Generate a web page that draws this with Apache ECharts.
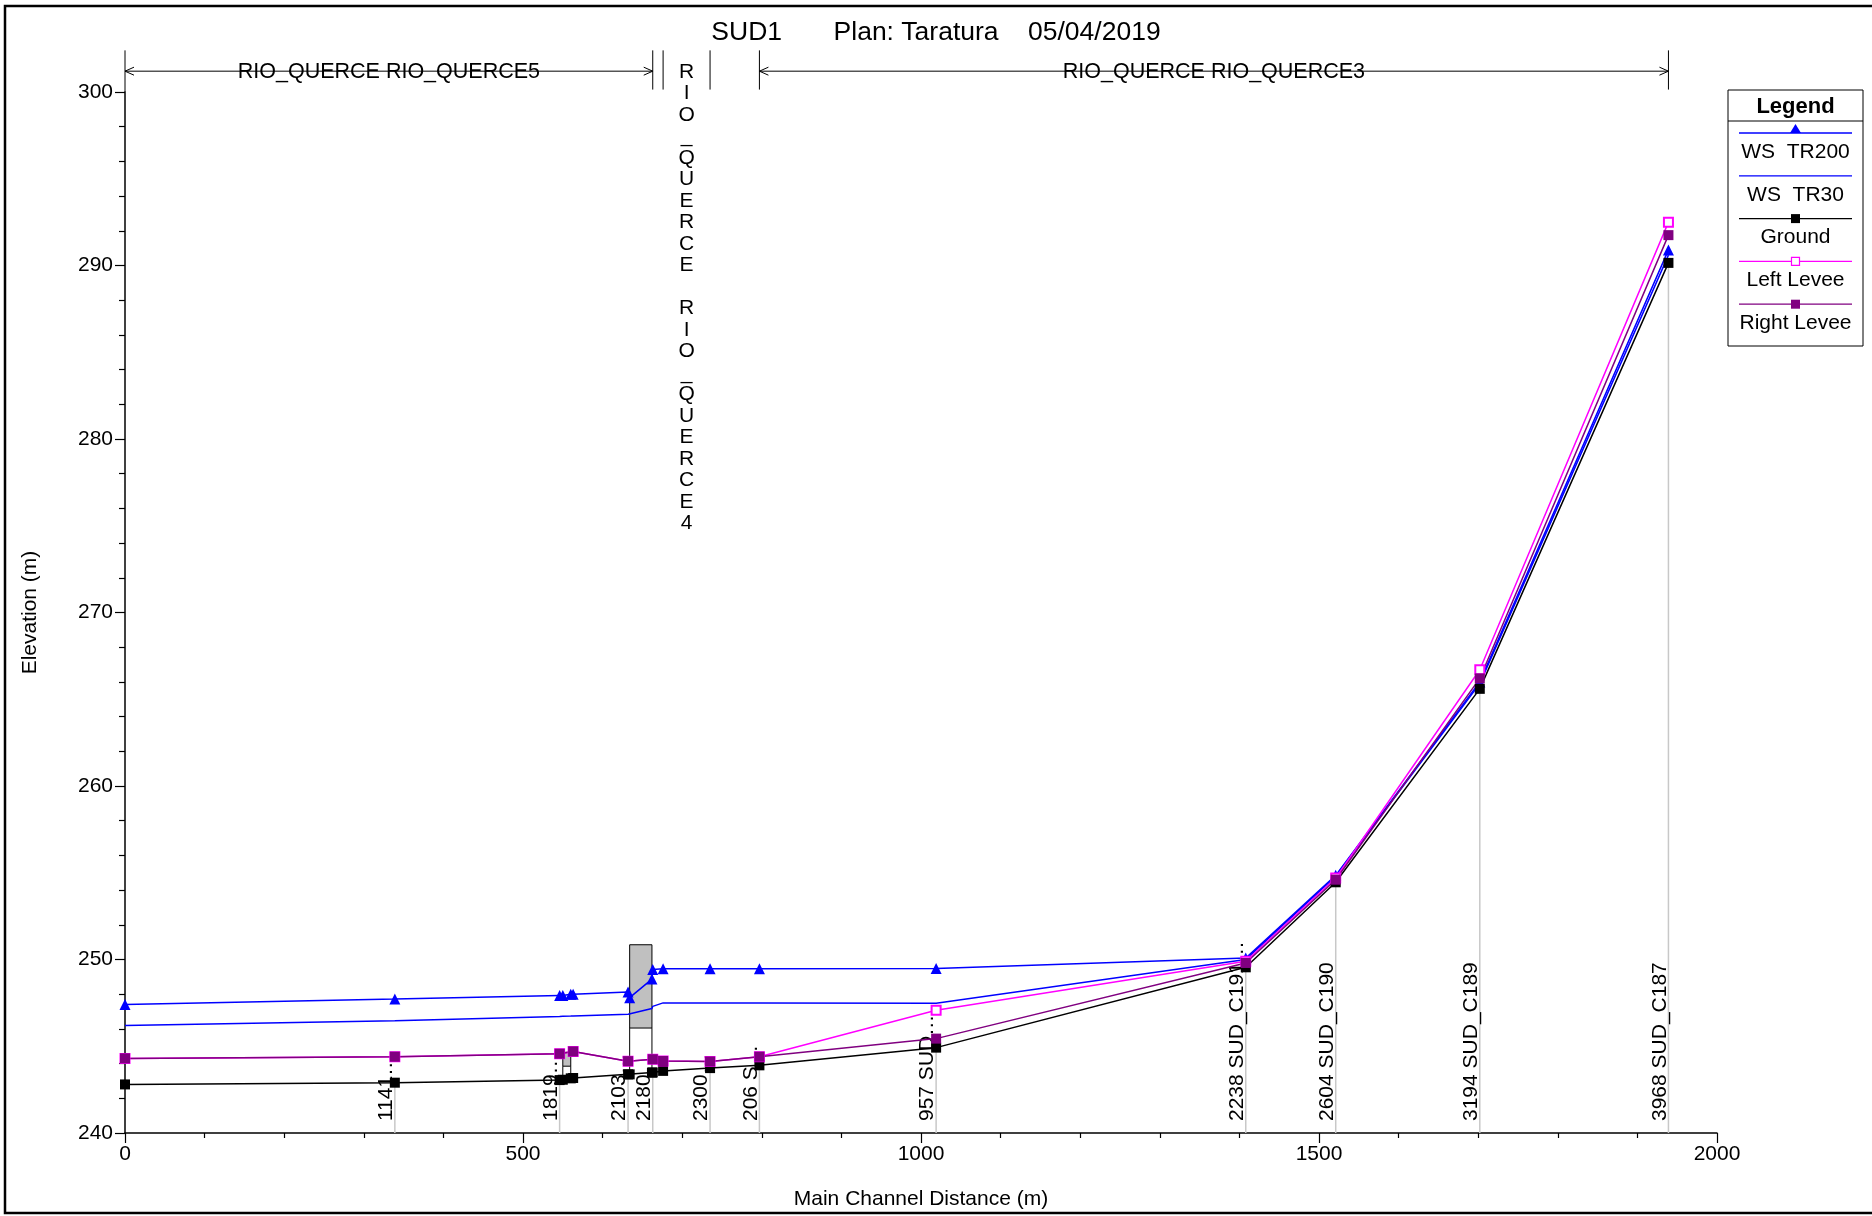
<!DOCTYPE html>
<html><head><meta charset="utf-8">
<script src="https://cdn.jsdelivr.net/npm/echarts@6/dist/echarts.min.js"></script>
<style>html,body{margin:0;padding:0;background:#fff}#chart{width:1872px;height:1216px}</style>
</head><body><div id="chart"></div>
<script>
// ---------- data ----------
const stations   = [0, 339, 546, 550, 560, 563, 632, 634, 662, 663, 676, 735, 797, 1019, 1408, 1521, 1702, 1939];
const wsTR200    = [247.4, 247.72, 247.93, 247.93, 248.0, 248.0, 248.12, 247.8, 248.87, 249.42, 249.46, 249.46, 249.46, 249.48, 250.08, 254.85, 266.0, 290.9];
const wsTR30     = [246.2, 246.47, 246.72, 246.73, 246.74, 246.75, 246.85, 246.77, 247.18, 247.3, 247.5, 247.5, 247.5, 247.48, 250.0, 254.8, 265.9, 290.6];
const ground     = [242.8, 242.9, 243.05, 243.07, 243.15, 243.17, 243.38, 243.38, 243.48, 243.49, 243.58, 243.74, 243.9, 244.92, 249.55, 254.45, 265.6, 290.15];
const leftLevee  = [244.3, 244.4, 244.57, null, null, 244.7, 244.14, null, null, 244.25, 244.15, 244.12, 244.4, 247.08, 249.9, 254.7, 266.7, 292.5];
const rightLevee = [244.3, 244.4, 244.57, null, null, 244.7, 244.14, null, null, 244.25, 244.15, 244.12, 244.4, 245.44, 249.8, 254.6, 266.2, 291.75];
const stationLabels = ['', '1141\u2026', '1819\u2026', '', '', '', '2103\u2026', '', '', '2180', '', '2300\u2026', '206 S\u2026', '957 SUD\u2026', '2238 SUD_C191\u2026', '2604 SUD_C190', '3194 SUD_C189', '3968 SUD_C187'];

const reachNames = ['RIO_QUERCE RIO_QUERCE5', 'RIO_QUERCE RIO_QUERCE4', 'RIO_QUERCE RIO_QUERCE3'];
const reachStart = [0, 676, 797];
const reachEnd   = [663, 735, 1939];

const bridgeStart     = [550, 634];
const bridgeEnd       = [560, 662];
const bridgeLowChord  = [243.85, 246.05];
const bridgeHighChord = [244.65, 250.85];

const xTicks = [0, 500, 1000, 1500, 2000];
const yTicks = [240, 250, 260, 270, 280, 290, 300];

const titleText = 'SUD1       Plan: Taratura    05/04/2019';
const seriesNames = ['WS  TR200', 'WS  TR30', 'Ground', 'Left Levee', 'Right Levee'];

// ---------- styling ----------
const FONT = '"Liberation Sans", Arial, Helvetica, sans-serif';
const Y_MIN = yTicks[0], Y_MAX = yTicks[yTicks.length - 1];
const X_MIN = xTicks[0], X_MAX = xTicks[xTicks.length - 1];
const BR_TOP = 302.4, BR_BOTTOM = 300.14, BR_ARROW = 301.2;

const seriesDefs = [
  { name: seriesNames[0], values: wsTR200,    color: '#0000ff', symbol: 'triangle',  size: 11 },
  { name: seriesNames[1], values: wsTR30,     color: '#0000ff', symbol: 'none',      size: 0 },
  { name: seriesNames[2], values: ground,     color: '#000000', symbol: 'rect',      size: 10 },
  { name: seriesNames[3], values: leftLevee,  color: '#ff00ff', symbol: 'emptyRect', size: 9 },
  { name: seriesNames[4], values: rightLevee, color: '#800080', symbol: 'rect',      size: 10 }
];

const chart = echarts.init(document.getElementById('chart'), null, { renderer: 'canvas' });

function groundAt(x) {
  const i = stations.indexOf(x);
  return i >= 0 ? ground[i] : Y_MIN;
}

const lineSeries = seriesDefs.map(d => ({
  type: 'line',
  name: d.name,
  z: 3,
  data: stations.map((x, i) => [x, d.values[i] == null ? '-' : d.values[i]]),
  connectNulls: true,
  symbol: d.symbol,
  symbolSize: d.size,
  showSymbol: d.symbol !== 'none',
  lineStyle: { color: d.color, width: 1.5 },
  itemStyle: { color: d.color, borderColor: d.color, borderWidth: d.symbol === 'emptyRect' ? 1.3 : 0 },
  emphasis: { disabled: true },
  animation: false
}));

const stationSeries = {
  type: 'custom',
  name: 'stations',
  z: 1,
  silent: true,
  animation: false,
  data: stations.map((x, i) => [x, ground[i]]),
  renderItem: function (params, api) {
    const label = stationLabels[params.dataIndex];
    if (!label) return null;
    const x = api.value(0), g = api.value(1);
    const base = api.coord([x, Y_MIN]);
    const top = api.coord([x, g]);
    return {
      type: 'group',
      children: [
        { type: 'line', shape: { x1: base[0], y1: base[1], x2: top[0], y2: top[1] },
          style: { stroke: '#c8c8c8', lineWidth: 1.5 } },
        { type: 'text', x: base[0] + 2, y: base[1] - 12, rotation: Math.PI / 2,
          style: { text: label, fontSize: 21, fontFamily: FONT, fill: '#000', align: 'left', verticalAlign: 'bottom' } }
      ]
    };
  }
};

const bridgeSeries = {
  type: 'custom',
  name: 'bridges',
  z: 1,
  silent: true,
  animation: false,
  encode: { x: [0, 1], y: [2, 3] },
  data: bridgeStart.map((s, i) => [s, bridgeEnd[i], bridgeLowChord[i], bridgeHighChord[i]]),
  renderItem: function (params, api) {
    const s = api.value(0), e = api.value(1), lo = api.value(2), hi = api.value(3);
    const pTL = api.coord([s, hi]), pBR = api.coord([e, lo]);
    const gL = api.coord([s, groundAt(s)]), gR = api.coord([e, groundAt(e)]);
    return {
      type: 'group',
      children: [
        { type: 'rect', shape: { x: pTL[0], y: pTL[1], width: pBR[0] - pTL[0], height: pBR[1] - pTL[1] },
          style: { fill: '#c0c0c0', stroke: '#000', lineWidth: 1 } },
        { type: 'line', shape: { x1: pTL[0], y1: pBR[1], x2: gL[0], y2: gL[1] }, style: { stroke: '#000', lineWidth: 1 } },
        { type: 'line', shape: { x1: pBR[0], y1: pBR[1], x2: gR[0], y2: gR[1] }, style: { stroke: '#000', lineWidth: 1 } }
      ]
    };
  }
};

const reachSeries = {
  type: 'custom',
  name: 'reaches',
  z: 4,
  silent: true,
  animation: false,
  clip: false,
  encode: { x: [0, 1], y: 2 },
  data: reachStart.map((s, i) => [s, reachEnd[i], BR_ARROW]),
  renderItem: function (params, api) {
    const i = params.dataIndex;
    const s = api.value(0), e = api.value(1);
    const pS = api.coord([s, BR_ARROW]), pE = api.coord([e, BR_ARROW]);
    const yTop = api.coord([s, BR_TOP])[1];
    const yBot = api.coord([s, BR_BOTTOM])[1];
    const yAxisTop = api.coord([s, Y_MAX])[1];
    const ay = pS[1];
    const stroke = { stroke: '#000', lineWidth: 1 };
    const ch = [
      { type: 'line', shape: { x1: pS[0], y1: yTop, x2: pS[0], y2: s === X_MIN ? yAxisTop : yBot }, style: stroke },
      { type: 'line', shape: { x1: pE[0], y1: yTop, x2: pE[0], y2: yBot }, style: stroke }
    ];
    const name = reachNames[i];
    if (pE[0] - pS[0] > 200) {
      ch.push({ type: 'line', shape: { x1: pS[0], y1: ay, x2: pE[0], y2: ay }, style: stroke });
      ch.push({ type: 'polyline', shape: { points: [[pS[0] + 9, ay - 4], [pS[0], ay], [pS[0] + 9, ay + 4]] }, style: Object.assign({ fill: null }, stroke) });
      ch.push({ type: 'polyline', shape: { points: [[pE[0] - 9, ay - 4], [pE[0], ay], [pE[0] - 9, ay + 4]] }, style: Object.assign({ fill: null }, stroke) });
      ch.push({ type: 'text', x: (pS[0] + pE[0]) / 2, y: ay + 1,
        style: { text: name, fontSize: 21.5, fontFamily: FONT, fill: '#000', align: 'center', verticalAlign: 'middle' } });
    } else {
      const lh = 21.5;
      ch.push({ type: 'text', x: (pS[0] + pE[0]) / 2, y: ay - lh / 2 + 1,
        style: { text: name.split('').join('\n'), fontSize: 21, lineHeight: lh, fontFamily: FONT, fill: '#000', align: 'center', verticalAlign: 'top' } });
    }
    return { type: 'group', children: ch };
  }
};

// ---------- legend (drawn as graphics) ----------
const LG = { left: 1728, top: 90, width: 135, height: 256, sep: 121, first: 133, step: 42.8, x1: 1739, x2: 1852 };
const legendEls = [
  { type: 'rect', shape: { x: LG.left, y: LG.top, width: LG.width, height: LG.height }, style: { fill: '#fff', stroke: '#000', lineWidth: 1 } },
  { type: 'text', x: LG.left + LG.width / 2, y: (LG.top + LG.sep) / 2 + 1,
    style: { text: 'Legend', fontSize: 22, fontWeight: 'bold', fontFamily: FONT, fill: '#000', align: 'center', verticalAlign: 'middle' } },
  { type: 'line', shape: { x1: LG.left, y1: LG.sep, x2: LG.left + LG.width, y2: LG.sep }, style: { stroke: '#000', lineWidth: 1 } }
];
seriesDefs.forEach((d, i) => {
  const y = LG.first + i * LG.step;
  const cx = (LG.x1 + LG.x2) / 2;
  legendEls.push({ type: 'line', shape: { x1: LG.x1, y1: y, x2: LG.x2, y2: y }, style: { stroke: d.color, lineWidth: 1.3 } });
  if (d.symbol === 'triangle') {
    legendEls.push({ type: 'polygon', shape: { points: [[cx, y - 9], [cx + 5.5, y], [cx - 5.5, y]] }, style: { fill: d.color } });
  } else if (d.symbol === 'rect') {
    legendEls.push({ type: 'rect', shape: { x: cx - 4.5, y: y - 4.5, width: 9, height: 9 }, style: { fill: d.color } });
  } else if (d.symbol === 'emptyRect') {
    legendEls.push({ type: 'rect', shape: { x: cx - 4, y: y - 4, width: 8, height: 8 }, style: { fill: '#fff', stroke: d.color, lineWidth: 1.2 } });
  }
  legendEls.push({ type: 'text', x: cx, y: y + 19,
    style: { text: d.name, fontSize: 21, fontFamily: FONT, fill: '#000', align: 'center', verticalAlign: 'middle' } });
});

const option = {
  backgroundColor: '#fff',
  animation: false,
  title: {
    text: titleText, left: 'center', top: 14,
    textStyle: { fontSize: 26.5, fontWeight: 'normal', fontFamily: FONT, color: '#000' }
  },
  grid: { left: 125, right: 155, top: 92, bottom: 83, containLabel: false },
  xAxis: {
    type: 'value', min: X_MIN, max: X_MAX, interval: xTicks[1] - xTicks[0],
    name: 'Main Channel Distance (m)', nameLocation: 'middle', nameGap: 56,
    nameTextStyle: { fontSize: 21, fontFamily: FONT, color: '#000' },
    axisLine: { show: true, lineStyle: { color: '#000', width: 1.5 } },
    axisTick: { show: true, length: 10, lineStyle: { color: '#000', width: 1.2 } },
    minorTick: { show: true, splitNumber: 5, length: 5, lineStyle: { color: '#000', width: 1.2 } },
    axisLabel: { fontSize: 21, fontFamily: FONT, color: '#000', margin: 11, formatter: v => String(v) },
    splitLine: { show: false }
  },
  yAxis: {
    type: 'value', min: Y_MIN, max: Y_MAX, interval: yTicks[1] - yTicks[0],
    name: 'Elevation (m)', nameLocation: 'middle', nameGap: 84,
    nameTextStyle: { fontSize: 21, fontFamily: FONT, color: '#000' },
    axisLine: { show: true, lineStyle: { color: '#000', width: 1.5 } },
    axisTick: { show: true, length: 10, lineStyle: { color: '#000', width: 1.2 } },
    minorTick: { show: true, splitNumber: 5, length: 6, lineStyle: { color: '#000', width: 1.2 } },
    axisLabel: { fontSize: 21, fontFamily: FONT, color: '#000', margin: 12, formatter: v => String(v) },
    splitLine: { show: false }
  },
  graphic: [
    { type: 'rect', z: 100, silent: true, shape: { x: 5, y: 6, width: 1890, height: 1207 }, style: { fill: null, stroke: '#000', lineWidth: 2.5 } },
    { type: 'group', z: 100, silent: true, children: legendEls }
  ],
  series: [stationSeries, bridgeSeries].concat(lineSeries).concat([reachSeries])
};
chart.setOption(option);
</script>
</body></html>
